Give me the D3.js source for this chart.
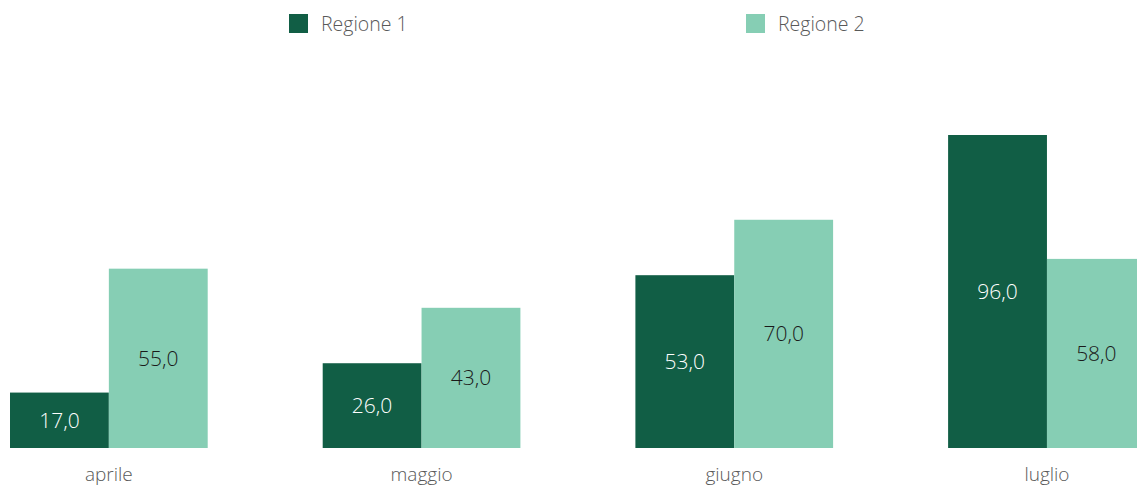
<!DOCTYPE html>
<html><head><meta charset="utf-8">
<script src="https://cdn.jsdelivr.net/npm/d3@7"></script>
<style>body{margin:0;background:#fff}svg{display:block;font-family:"Open Sans",Lato,sans-serif}</style>
</head><body><svg id="c" width="1137" height="488"></svg>
<script>
const categories = ["aprile","maggio","giugno","luglio"];
const seriesNames = ["Regione 1","Regione 2"];
const regione1 = [17,26,53,96];
const regione2 = [55,43,70,58];
const colors = ["#115e45","#86ceb4"];
const labelColors = ["#ffffff","#1a1a1a"];
const FONT = "'Open Sans',Lato,sans-serif";

const svg = d3.select("#c");
const step = 312.7, gap = 115;
const x0 = d3.scaleBand().domain(categories)
  .range([10, 10 + step*categories.length - gap]).paddingInner(gap/step).paddingOuter(0);
const x1 = d3.scaleBand().domain(seriesNames).range([0, x0.bandwidth()]);
const y = d3.scaleLinear().domain([0, 96]).range([448, 135]);
const fmt = v => v.toFixed(1).replace(".", ",");

const data = categories.map((c,i)=>({cat:c, vals:[regione1[i], regione2[i]]}));
const g = svg.selectAll("g.grp").data(data).join("g").attr("transform", d=>`translate(${x0(d.cat)},0)`);
g.selectAll("rect").data(d=>d.vals.map((v,j)=>({v,j}))).join("rect")
  .attr("x", d=>x1(seriesNames[d.j])).attr("width", x1.bandwidth())
  .attr("y", d=>y(d.v)).attr("height", d=>y(0)-y(d.v)).attr("fill", d=>colors[d.j]);
g.selectAll("text.val").data(d=>d.vals.map((v,j)=>({v,j}))).join("text").attr("class","val")
  .attr("x", d=>x1(seriesNames[d.j]) + x1.bandwidth()/2)
  .attr("y", d=>(y(d.v)+y(0))/2).attr("dy","0.35em")
  .attr("text-anchor","middle").attr("font-size",21).attr("font-weight",300)
  .attr("fill", d=>labelColors[d.j]).text(d=>fmt(d.v));

const xAxis = svg.append("g").attr("transform","translate(0,448)")
  .call(d3.axisBottom(x0).tickSize(0).tickPadding(20));
xAxis.select(".domain").remove();
xAxis.selectAll("text").attr("font-size",19).attr("fill","#595959").attr("font-family",FONT).attr("font-weight",300);

const legX = [289, 746];
const leg = svg.selectAll("g.leg").data(seriesNames).join("g").attr("transform",(d,i)=>`translate(${legX[i]},14)`);
leg.append("rect").attr("width",19).attr("height",19).attr("fill",(d,i)=>colors[i]);
leg.append("text").attr("x",32).attr("y",10).attr("dy","0.35em").attr("font-size",19.5)
  .attr("font-weight",300).attr("fill","#595959").text(d=>d);
</script></body></html>
